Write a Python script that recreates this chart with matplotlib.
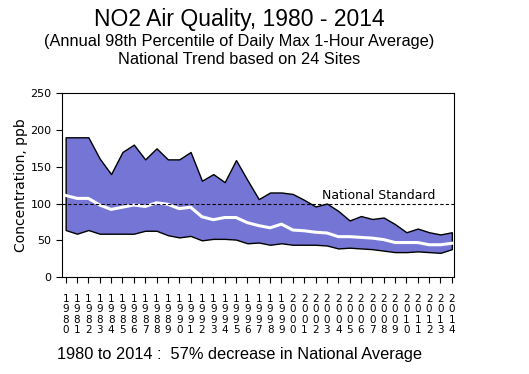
import numpy as np
import matplotlib
matplotlib.use("Agg")
import matplotlib.pyplot as plt

plt.rcParams['font.family'] = ['Liberation Sans', 'DejaVu Sans']

# データ
years = list(range(1980, 2015))
upper = [190, 190, 190, 161, 140, 170, 180, 160, 175, 160,
         160, 170, 131, 140, 129, 159, 132, 106, 115, 115,
         113, 105, 96, 100, 90, 77, 83, 79, 81, 72,
         61, 66, 61, 58, 61]
mean = [111, 107, 107, 98, 92, 95, 98, 96, 101, 99,
        93, 95, 82, 78, 81, 81, 74, 70, 67, 72,
        64, 63, 61, 60, 55, 55, 54, 53, 51, 47,
        47, 47, 44, 44, 46]
lower = [64, 59, 64, 59, 59, 59, 59, 63, 63, 57,
         54, 56, 50, 52, 52, 51, 46, 47, 44, 46,
         44, 44, 44, 43, 39, 40, 39, 38, 36, 34,
         34, 35, 34, 33, 38]
standard = 100

fig = plt.figure(figsize=(5.29, 3.74), dpi=100)
ax = fig.add_axes([0.117, 0.259, 0.741, 0.492])

ax.fill_between(years, lower, upper, facecolor='#7575D5', edgecolor='black', linewidth=1.0, zorder=2)
ax.plot(years, mean, color='white', linewidth=2.2, zorder=3)
ax.axhline(standard, color='black', linestyle=(0, (3, 2)), linewidth=0.8, zorder=4)
ax.text(2007.6, 102, 'National Standard', fontsize=9, ha='center', va='bottom', family='DejaVu Sans', zorder=5)

ax.set_xlim(1979.67, 2014.18)
ax.set_ylim(0, 250)
ax.set_yticks([0, 50, 100, 150, 200, 250])
ax.set_xticks(years)
ax.set_xticklabels(['\n'.join(str(y)) for y in years], fontsize=7.5, linespacing=1.05, family='DejaVu Sans')
ax.tick_params(axis='y', labelsize=8, direction='out', length=4)
ax.tick_params(axis='x', direction='out', length=4, pad=8)
for lab in ax.get_yticklabels():
    lab.set_family('DejaVu Sans')
ax.set_ylabel('Concentration, ppb', fontsize=10, family='DejaVu Sans', labelpad=2)

fig.text(0.452, 0.947, 'NO2 Air Quality, 1980 - 2014', fontsize=16.5, ha='center', va='center')
fig.text(0.452, 0.888, '(Annual 98th Percentile of Daily Max 1-Hour Average)', fontsize=11.8, ha='center', va='center')
fig.text(0.452, 0.840, 'National Trend based on 24 Sites', fontsize=11.8, ha='center', va='center')
fig.text(0.108, 0.051, '1980 to 2014 :  57% decrease in National Average', fontsize=11.8, ha='left', va='center')

fig.savefig('out.png', dpi=100)
